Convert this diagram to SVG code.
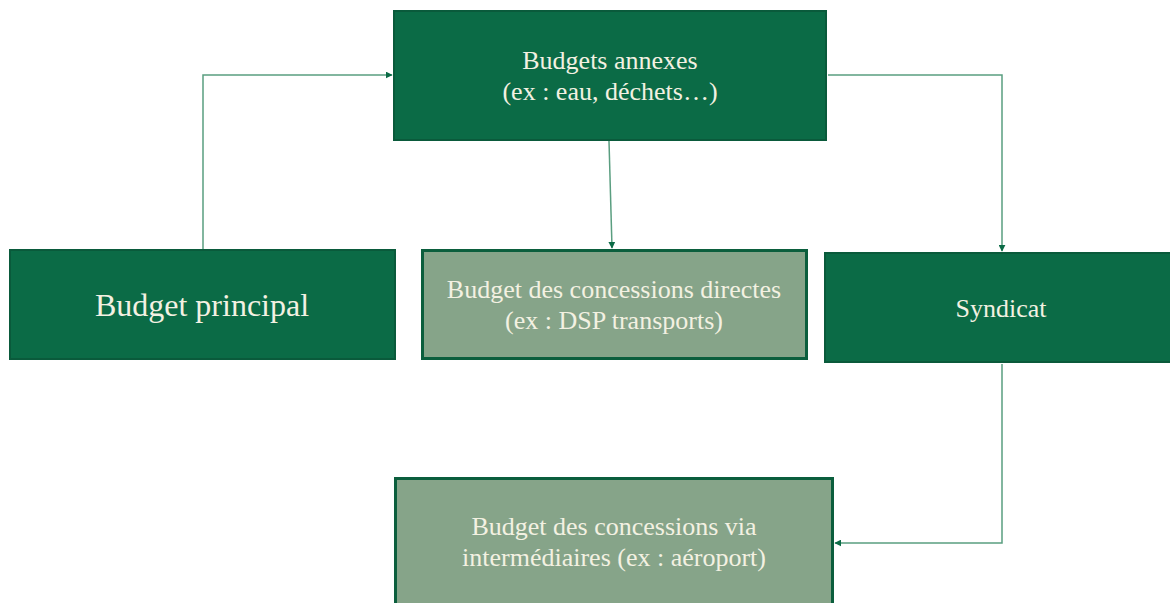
<svg xmlns="http://www.w3.org/2000/svg" width="1170" height="603" viewBox="0 0 1170 603">
  <defs>
    <style>
      .dark { fill: #0b6b46; stroke: #0a5a3b; stroke-width: 2; }
      .light { fill: #86a489; stroke: #0b5e3d; stroke-width: 3; }
      .label { font-family: "Liberation Serif", "DejaVu Serif", serif; fill: #f3f1e2; text-anchor: middle; font-size: 26px; }
      .big { font-size: 32px; }
      .link { fill: none; stroke: #5a9e80; stroke-width: 1.5; }
    </style>
    <marker id="arrow" viewBox="0 0 10 10" refX="9" refY="5" markerWidth="7" markerHeight="7" markerUnits="userSpaceOnUse" orient="auto">
      <path d="M0,0 L10,5 L0,10 z" fill="#0b6b46"/>
    </marker>
  </defs>

  <g id="connectors">
    <path class="link" d="M203,249 V75 H392" marker-end="url(#arrow)"/>
    <path class="link" d="M609,141 L612,248" marker-end="url(#arrow)"/>
    <path class="link" d="M828,75 H1002 V251" marker-end="url(#arrow)"/>
    <path class="link" d="M1002,364 V543 H835" marker-end="url(#arrow)"/>
  </g>

  <g id="budgets-annexes">
    <rect class="dark" x="394" y="11" width="432" height="129"/>
    <text class="label" x="610" y="69">Budgets annexes</text>
    <text class="label" x="610" y="100">(ex : eau, déchets…)</text>
  </g>

  <g id="budget-principal">
    <rect class="dark" x="10" y="250" width="385" height="109"/>
    <text class="label big" x="202" y="316">Budget principal</text>
  </g>

  <g id="concessions-directes">
    <rect class="light" x="422.5" y="250.5" width="384" height="108"/>
    <text class="label" x="614" y="298">Budget des concessions directes</text>
    <text class="label" x="614" y="329">(ex : DSP transports)</text>
  </g>

  <g id="syndicat">
    <rect class="dark" x="825" y="253" width="350" height="109"/>
    <text class="label" x="1001" y="317">Syndicat</text>
  </g>

  <g id="concessions-via">
    <rect class="light" x="395.5" y="478.5" width="437" height="135"/>
    <text class="label" x="614" y="535">Budget des concessions via</text>
    <text class="label" x="614" y="566">intermédiaires (ex : aéroport)</text>
  </g>
</svg>
